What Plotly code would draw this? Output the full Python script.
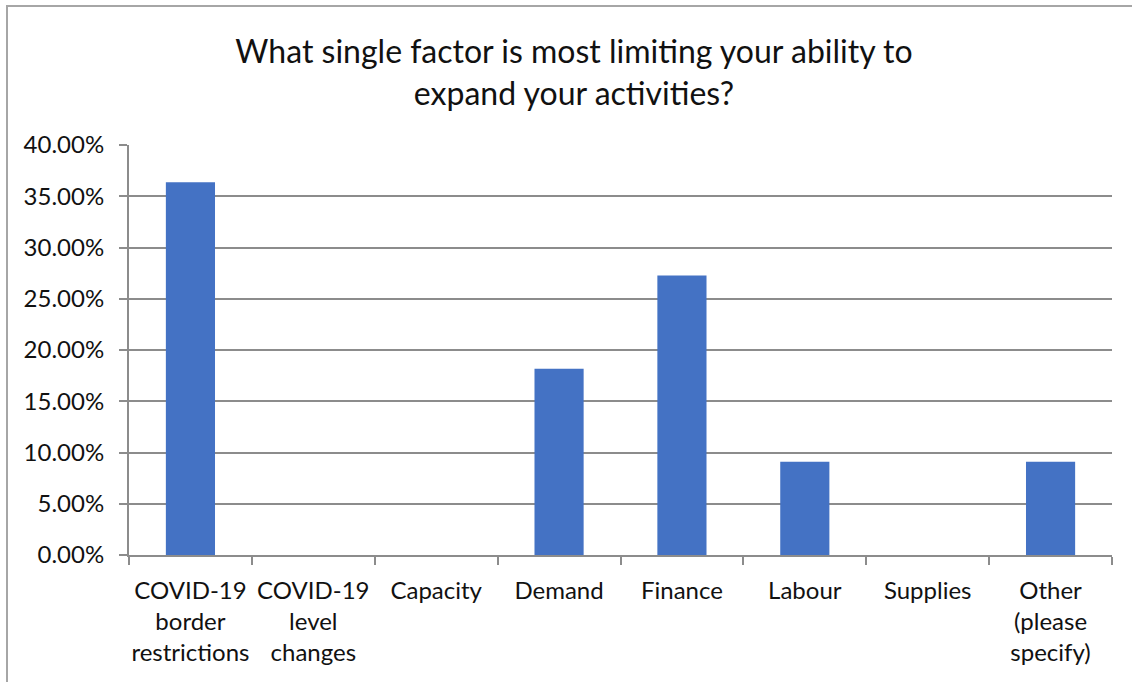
import plotly.graph_objects as go

categories = [
    "COVID-19<br>border<br>restrictions",
    "COVID-19<br>level<br>changes",
    "Capacity",
    "Demand",
    "Finance",
    "Labour",
    "Supplies",
    "Other<br>(please<br>specify)",
]
shares = [0.3636, 0.0, 0.0, 0.1818, 0.2727, 0.0909, 0.0, 0.0909]
y_ticks = [0.0, 0.05, 0.10, 0.15, 0.20, 0.25, 0.30, 0.35, 0.40]
title_text = "What single factor is most limiting your ability to<br>expand your activities?"

FONT = "Lato, 'Open Sans', sans-serif"
W, H = 1132, 682
L, R, T, B = 129, 20, 145, 127
pw, ph = W - L - R, H - T - B

fig = go.Figure(
    go.Bar(
        x=categories,
        y=shares,
        marker=dict(color="#4472C4", line=dict(width=0)),
        width=0.4,
    )
)

fig.update_layout(
    width=W,
    height=H,
    margin=dict(l=L, r=R, t=T, b=B, pad=0, autoexpand=False),
    paper_bgcolor="white",
    plot_bgcolor="white",
    showlegend=False,
    font=dict(family=FONT, color="#111111"),
    title=dict(
        text=title_text,
        x=574 / W,
        xanchor="center",
        y=1 - 63 / H,
        yanchor="middle",
        font=dict(family=FONT, size=32, color="#111111"),
    ),
)

fig.update_xaxes(
    type="category",
    tickson="boundaries",
    ticks="outside",
    ticklen=8,
    tickcolor="#8c8c8c",
    tickwidth=2,
    tickangle=0,
    automargin=False,
    showline=True,
    linecolor="#8c8c8c",
    linewidth=2,
    showgrid=False,
    ticklabelstandoff=13,
    tickfont=dict(family=FONT, size=24, color="#111111"),
    fixedrange=True,
)

fig.update_yaxes(
    range=[0, 0.40],
    tickvals=y_ticks,
    tickformat=".2%",
    ticks="outside",
    ticklen=8,
    tickcolor="#8c8c8c",
    tickwidth=2,
    automargin=False,
    showline=True,
    linecolor="#8c8c8c",
    linewidth=2,
    showgrid=True,
    gridcolor="#8c8c8c",
    gridwidth=2,
    zeroline=False,
    ticklabelstandoff=10,
    tickfont=dict(family=FONT, size=24, color="#111111"),
    fixedrange=True,
)

# Outer chart border
fig.add_shape(
    type="rect",
    xref="paper",
    yref="paper",
    x0=(7 - L) / pw,
    x1=(W + 20 - L) / pw,
    y0=-(H + 20 - (T + ph)) / ph,
    y1=(T + ph - 6) / ph,
    line=dict(color="#a6a6a6", width=2),
    fillcolor="rgba(0,0,0,0)",
    layer="below",
)

fig.write_html("out.html")
